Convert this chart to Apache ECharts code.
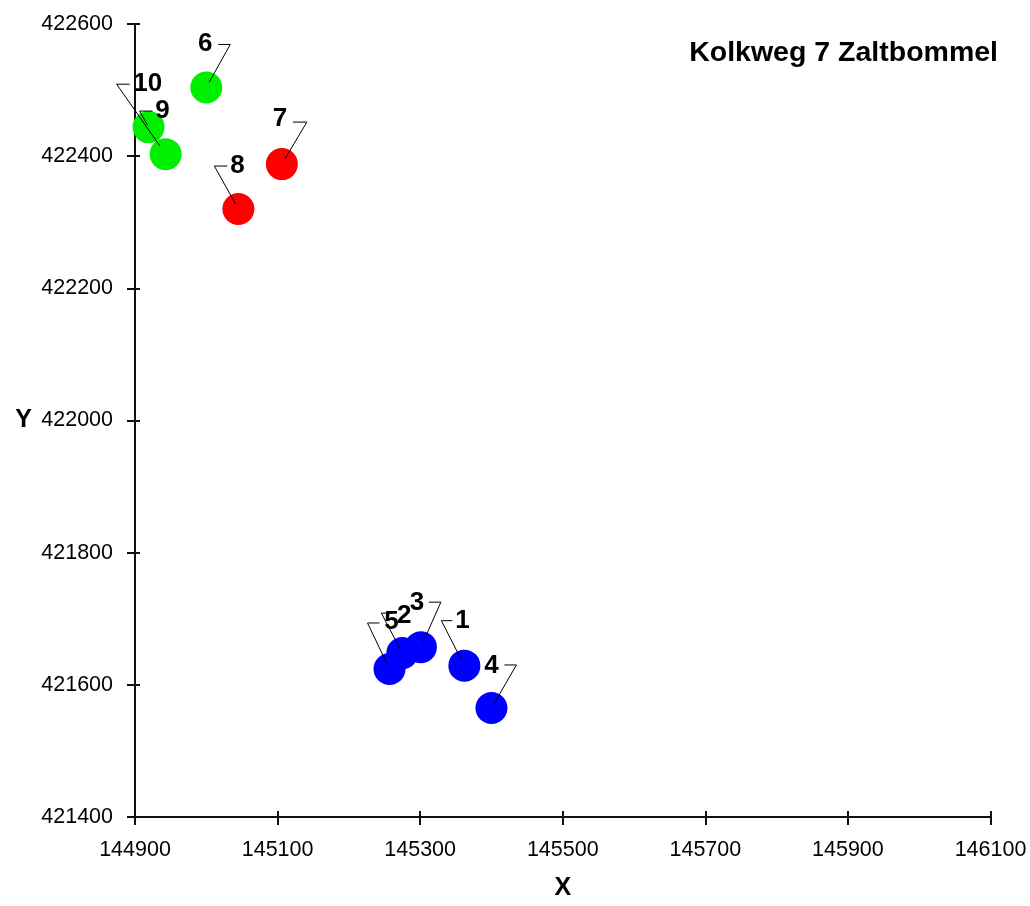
<!DOCTYPE html>
<html>
<head>
<meta charset="utf-8">
<script src="https://cdn.jsdelivr.net/npm/echarts@6/dist/echarts.min.js"></script>
<style>
html,body{margin:0;padding:0;background:#fff;}
#chart{width:1030px;height:906px;}
</style>
</head>
<body>
<div id="chart"></div>
<script>
// ---- data ----
const pointIds = ['1','2','3','4','5','6','7','8','9','10'];
const xValues = [145362, 145275, 145301, 145400, 145257, 145000, 145106, 145045, 144919, 144943];
const yValues = [421629, 421648, 421657, 421565, 421624, 422504, 422388, 422320, 422444, 422403];
const groups  = ['blue','blue','blue','blue','blue','green','red','red','green','green'];
const xTicks = [144900, 145100, 145300, 145500, 145700, 145900, 146100];
const yTicks = [421400, 421600, 421800, 422000, 422200, 422400, 422600];
const titleText = 'Kolkweg 7 Zaltbommel';

// ---- styles / layout (not data) ----
const colorMap = {blue:'#0000ff', green:'#00ee00', red:'#ff0000'};
// label placement relative to point centre, px: text centre, elbow, label-side end of horizontal stub
const labelPlacement = [
  {tx:-2, ty:-45, ex:-23, ey:-45, lx:-12},
  {tx: 2, ty:-37, ex:-21, ey:-40, lx:-10},
  {tx:-4, ty:-44, ex: 20, ey:-45, lx:  8},
  {tx: 0, ty:-42, ex: 25, ey:-43, lx: 13},
  {tx: 2, ty:-47, ex:-22, ey:-46, lx:-10},
  {tx:-1, ty:-44, ex: 24, ey:-43, lx: 12},
  {tx:-2, ty:-45, ex: 25, ey:-42, lx: 11},
  {tx:-1, ty:-43, ex:-24, ey:-43, lx:-11},
  {tx:14, ty:-16, ex: -9, ey:-16, lx:  4},
  {tx:-18,ty:-70, ex:-49, ey:-70, lx:-36}
];
const FONT = 'Liberation Sans, Arial, sans-serif';

const pts = xValues.map((x, i) => [x, yValues[i], pointIds[i], groups[i]]);

const chart = echarts.init(document.getElementById('chart'), null, {renderer:'canvas'});

const plain = v => String(v);
const axisCommonX = {
  type:'value', min: xTicks[0], max: xTicks[xTicks.length-1], interval: xTicks[1]-xTicks[0]
};
const axisCommonY = {
  type:'value', min: yTicks[0], max: yTicks[yTicks.length-1], interval: yTicks[1]-yTicks[0]
};

chart.setOption({
  backgroundColor:'#ffffff',
  animation:false,
  title:{
    text: titleText, right: 32, top: 39, padding: 0,
    textStyle:{fontFamily: FONT, fontWeight:'bold', fontSize: 28.5, color:'#000'}
  },
  grid:{left:135, right:39.5, top:24, bottom:83, containLabel:false},
  xAxis:[
    Object.assign({}, axisCommonX, {
      name:'X', nameLocation:'middle', nameGap:59,
      nameTextStyle:{fontFamily:FONT, fontWeight:'bold', fontSize:25, color:'#000'},
      axisLine:{show:true, onZero:false, lineStyle:{color:'#111', width:2}},
      axisTick:{show:true, inside:false, length:8, lineStyle:{color:'#111', width:2}},
      axisLabel:{show:true, margin:22, fontFamily:FONT, fontSize:21.5, color:'#000', formatter: plain},
      splitLine:{show:false}
    }),
    Object.assign({}, axisCommonX, {
      position:'bottom',
      axisLine:{show:false},
      axisTick:{show:true, inside:true, length:6, lineStyle:{color:'#111', width:2}},
      axisLabel:{show:false},
      splitLine:{show:false}
    })
  ],
  yAxis:[
    Object.assign({}, axisCommonY, {
      name:'Y', nameLocation:'middle', nameGap:103, nameRotate:0,
      nameTextStyle:{fontFamily:FONT, fontWeight:'bold', fontSize:25, color:'#000'},
      axisLine:{show:true, onZero:false, lineStyle:{color:'#111', width:2}},
      axisTick:{show:true, inside:false, length:8, lineStyle:{color:'#111', width:2}},
      axisLabel:{show:true, margin:22, fontFamily:FONT, fontSize:21.5, color:'#000', formatter: plain},
      splitLine:{show:false}
    }),
    Object.assign({}, axisCommonY, {
      position:'left',
      axisLine:{show:false},
      axisTick:{show:true, inside:true, length:5, lineStyle:{color:'#111', width:2}},
      axisLabel:{show:false},
      splitLine:{show:false}
    })
  ],
  series:[
    {
      type:'scatter', xAxisIndex:0, yAxisIndex:0,
      data: pts,
      symbol:'circle', symbolSize:32,
      itemStyle:{color: p => colorMap[p.data[3]], opacity:1},
      emphasis:{disabled:true},
      z:2
    },
    {
      type:'custom', xAxisIndex:0, yAxisIndex:0,
      data: pts,
      z:5,
      silent:true,
      renderItem: function(params, api){
        const i = params.dataIndex;
        const c = api.coord([api.value(0), api.value(1)]);
        const o = labelPlacement[i];
        const k = 0.12;
        const endPt = [c[0] + o.ex*k, c[1] + o.ey*k];
        return {
          type:'group',
          children:[
            {
              type:'polyline',
              shape:{points:[[c[0]+o.lx, c[1]+o.ey],[c[0]+o.ex, c[1]+o.ey], endPt]},
              style:{stroke:'#000', lineWidth:1, fill:null}
            },
            {
              type:'text',
              x: c[0]+o.tx, y: c[1]+o.ty,
              style:{
                text: pointIds[i],
                fill:'#000',
                font: 'bold 26px ' + FONT,
                textAlign:'center', textVerticalAlign:'middle'
              }
            }
          ]
        };
      }
    }
  ]
});
</script>
</body>
</html>
